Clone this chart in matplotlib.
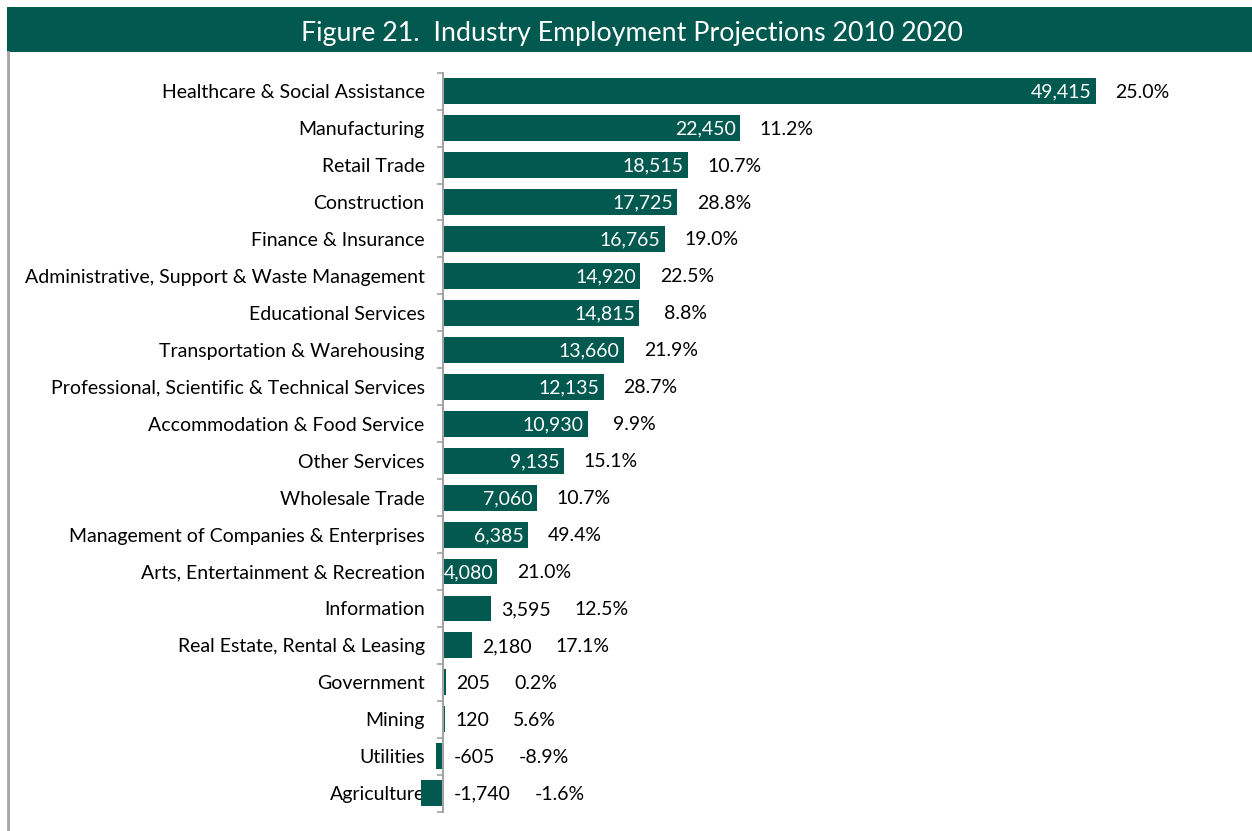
import matplotlib
matplotlib.use("Agg")
import matplotlib.pyplot as plt
import numpy as np
from matplotlib.lines import Line2D
from matplotlib.patches import Rectangle

industries = [
    "Healthcare & Social Assistance",
    "Manufacturing",
    "Retail Trade",
    "Construction",
    "Finance & Insurance",
    "Administrative, Support & Waste Management",
    "Educational Services",
    "Transportation & Warehousing",
    "Professional, Scientific & Technical Services",
    "Accommodation & Food Service",
    "Other Services",
    "Wholesale Trade",
    "Management of Companies & Enterprises",
    "Arts, Entertainment & Recreation",
    "Information",
    "Real Estate, Rental & Leasing",
    "Government",
    "Mining",
    "Utilities",
    "Agriculture",
]
job_change = [49415, 22450, 18515, 17725, 16765, 14920, 14815, 13660, 12135,
              10930, 9135, 7060, 6385, 4080, 3595, 2180, 205, 120, -605, -1740]
pct_change = ["25.0%", "11.2%", "10.7%", "28.8%", "19.0%", "22.5%", "8.8%",
              "21.9%", "28.7%", "9.9%", "15.1%", "10.7%", "49.4%", "21.0%",
              "12.5%", "17.1%", "0.2%", "5.6%", "-8.9%", "-1.6%"]

GREEN = "#01594f"
GREY = "#a3a3a3"
FS = 14
plt.rcParams["font.family"] = ["Lato", "DejaVu Sans"]

W, H = 1252, 831
fig = plt.figure(figsize=(W / 100, H / 100), dpi=100)

# title banner and the thin frame line down the left side
fig.add_artist(Rectangle((7 / W, 1 - 52 / H), 1 - 7 / W, 45 / H,
                         transform=fig.transFigure, color=GREEN, lw=0))
fig.text(632 / W, 1 - 34 / H, "Figure 21.  Industry Employment Projections 2010 2020",
         color="white", fontsize=19.3, ha="center", va="center")
fig.add_artist(Line2D([7.5 / W, 7.5 / W], [0, 1 - 52 / H],
                      transform=fig.transFigure, color=GREY, lw=2))

# axes placed so that zero sits at x=443.5 px
xmin, xmax = -2500, 55000
px_per_unit = 652 / 49415
left_px = 443.5 + xmin * px_per_unit
right_px = 443.5 + xmax * px_per_unit
ax = fig.add_axes([left_px / W, 1 - 811.7 / H, (right_px - left_px) / W, 739 / H])

y = np.arange(len(industries))
ax.barh(y, job_change, height=0.70, color=GREEN, zorder=2)
ax.set_xlim(xmin, xmax)
ax.set_ylim(len(industries) - 0.5, -0.5)

for s in ["top", "right", "bottom"]:
    ax.spines[s].set_visible(False)
ax.spines["left"].set_position(("data", 0))
ax.spines["left"].set_color(GREY)
ax.spines["left"].set_linewidth(1.5)
ax.spines["left"].set_zorder(3)
ax.set_xticks([])
ax.set_yticks(y)
ax.set_yticklabels(industries, fontsize=FS)
ax.set_yticks(np.arange(len(industries) + 1) - 0.5, minor=True)
ax.tick_params(axis="y", which="major", length=0, pad=13.5)
ax.tick_params(axis="y", which="minor", length=4, width=1.2, color=GREY)
ax.yaxis.set_zorder(1)

for yi, v, p in zip(y, job_change, pct_change):
    label = f"{v:,}"
    if v >= 4000:
        ax.annotate(label, xy=(v, yi), xytext=(-4, -1), textcoords="offset pixels",
                    ha="right", va="center", color="white", fontsize=FS, zorder=4)
        ax.annotate(p, xy=(v, yi), xytext=(47, -1), textcoords="offset pixels",
                    ha="center", va="center", color="black", fontsize=FS)
    else:
        val = ax.annotate(label, xy=(max(v, 0), yi), xytext=(10, -1),
                          textcoords="offset pixels", ha="left", va="center",
                          color="black", fontsize=FS)
        ax.annotate(p, xy=(1, 0.5), xycoords=val, xytext=(24, 0),
                    textcoords="offset pixels", ha="left", va="center",
                    color="black", fontsize=FS)

fig.savefig("out.png", dpi=100)
